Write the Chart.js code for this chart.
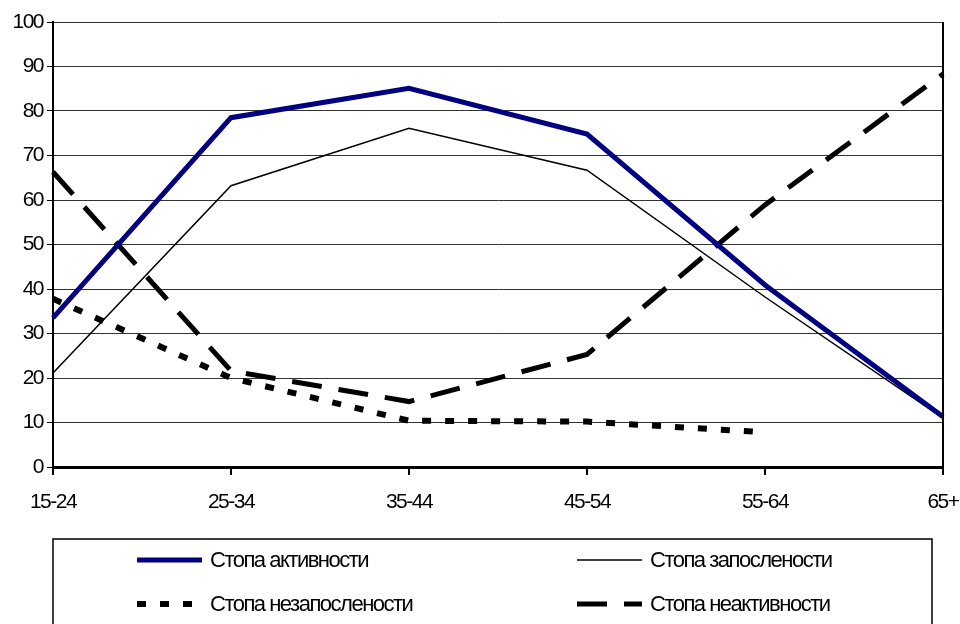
<!DOCTYPE html>
<html>
<head>
<meta charset="utf-8">
<script src="https://cdn.jsdelivr.net/npm/chart.js@4/dist/chart.umd.min.js"></script>
<style>
  html, body { margin: 0; padding: 0; background: #fff; }
  canvas { display: block; }
</style>
</head>
<body>
<canvas id="rateChart" width="960" height="624"></canvas>
<script>
const ageGroups = ["15-24", "25-34", "35-44", "45-54", "55-64", "65+"];
const activityRate = [33.5, 78.5, 85.1, 74.8, 40.9, 11.3];
const employmentRate = [21.1, 63.2, 76.1, 66.7, 38.2, 11.0];
const unemploymentRate = [37.8, 20.0, 10.4, 10.2, 7.8, null];
const inactivityRate = [66.3, 21.6, 14.7, 25.3, 58.9, 88.3];
const yTicks = [0, 10, 20, 30, 40, 50, 60, 70, 80, 90, 100];

const FONT = "'Liberation Sans', Arial, sans-serif";

// tight letter spacing, like the original export
const tightText = {
  id: "tightText",
  beforeDraw(chart) {
    chart.ctx.letterSpacing = "-1.5px";
  }
};

// right border of the plot + boxed two-column legend underneath
const frameAndLegend = {
  id: "frameAndLegend",
  afterDraw(chart) {
    const { ctx, chartArea } = chart;
    ctx.save();
    ctx.strokeStyle = "#000";
    ctx.lineWidth = 2;
    ctx.beginPath();
    ctx.moveTo(chartArea.right, chartArea.top);
    ctx.lineTo(chartArea.right, chartArea.bottom);
    ctx.stroke();

    const boxLeft = chartArea.left;
    const boxTop = chartArea.bottom + 72;
    const boxRight = 932;
    ctx.lineWidth = 1.5;
    ctx.strokeRect(boxLeft, boxTop, boxRight - boxLeft, 200);

    const cols = [boxLeft + 84, boxLeft + 524];
    const rows = [boxTop + 21, boxTop + 65];
    ctx.font = "22px " + FONT;
    ctx.fillStyle = "#000";
    ctx.textBaseline = "middle";
    chart.data.datasets.forEach((ds, i) => {
      const x = cols[i % 2];
      const y = rows[Math.floor(i / 2)];
      ctx.save();
      ctx.strokeStyle = ds.borderColor;
      ctx.lineWidth = ds.borderWidth;
      ctx.lineCap = "butt";
      ctx.setLineDash(ds.borderDash || []);
      ctx.beginPath();
      ctx.moveTo(x, y);
      ctx.lineTo(x + 65, y);
      ctx.stroke();
      ctx.restore();
      ctx.fillText(ds.label, x + 73, y + 1);
    });
    ctx.restore();
  }
};

new Chart(document.getElementById("rateChart"), {
  type: "line",
  data: {
    labels: ageGroups,
    datasets: [
      {
        label: "Стопа активности",
        data: activityRate,
        borderColor: "#000080",
        borderWidth: 5,
        borderJoinStyle: "miter"
      },
      {
        label: "Стопа запослености",
        data: employmentRate,
        borderColor: "#000",
        borderWidth: 1.5
      },
      {
        label: "Стопа незапослености",
        data: unemploymentRate,
        borderColor: "#000",
        borderWidth: 6,
        borderDash: [9, 14],
        borderCapStyle: "butt"
      },
      {
        label: "Стопа неактивности",
        data: inactivityRate,
        borderColor: "#000",
        borderWidth: 5,
        borderDash: [30, 17],
        borderCapStyle: "butt"
      }
    ]
  },
  options: {
    responsive: false,
    animation: false,
    devicePixelRatio: 1,
    layout: { padding: { top: 22, right: 17, left: 0, bottom: 0 } },
    elements: {
      point: { radius: 0, hoverRadius: 0 },
      line: { tension: 0, fill: false }
    },
    plugins: {
      legend: { display: false },
      tooltip: { enabled: false }
    },
    scales: {
      x: {
        offset: false,
        grid: {
          drawOnChartArea: false,
          drawTicks: true,
          tickLength: 8,
          color: "#000",
          lineWidth: 2
        },
        border: { display: true, color: "#000", width: 3 },
        ticks: {
          color: "#000",
          font: { family: FONT, size: 21 },
          padding: 15,
          maxRotation: 0,
          autoSkip: false
        },
        afterFit(scale) {
          scale.height = 157;
          scale.paddingLeft = 0;
          scale.paddingRight = 0;
        }
      },
      y: {
        min: 0,
        max: 100,
        afterBuildTicks(scale) { scale.ticks = yTicks.map(v => ({ value: v })); },
        grid: {
          color: "#333",
          lineWidth: 1,
          drawTicks: true,
          tickLength: 6,
          tickColor: "#000"
        },
        border: { display: true, color: "#000", width: 2 },
        ticks: {
          color: "#000",
          font: { family: FONT, size: 21 },
          padding: 4
        },
        afterFit(scale) { scale.width = 53; }
      }
    }
  },
  plugins: [tightText, frameAndLegend]
});
</script>
</body>
</html>
